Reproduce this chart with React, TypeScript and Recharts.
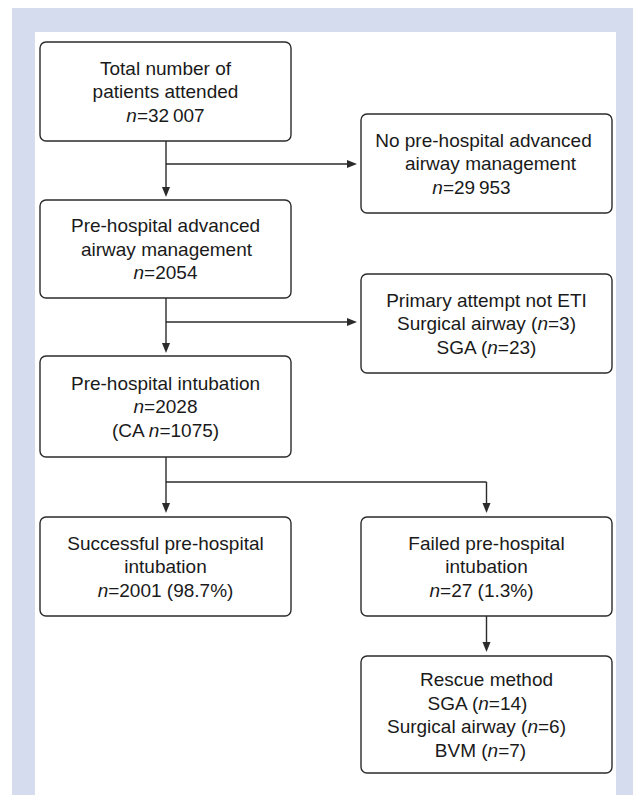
import React from 'react';
import { ComposedChart, XAxis, YAxis, ReferenceArea, ReferenceLine } from 'recharts';

// box texts ("n=" gets an italic n)
const totalPatients = ['Total number of', 'patients attended', 'n=32\u2009007'];
const noAdvanced = ['No pre-hospital advanced', 'airway management', 'n=29\u2009953'];
const advanced = ['Pre-hospital advanced', 'airway management', 'n=2054'];
const notEti = ['Primary attempt not ETI', 'Surgical airway (n=3)', 'SGA (n=23)'];
const intubation = ['Pre-hospital intubation', 'n=2028', '(CA n=1075)'];
const success = ['Successful pre-hospital', 'intubation', 'n=2001 (98.7%)'];
const failed = ['Failed pre-hospital', 'intubation', 'n=27 (1.3%)'];
const rescue = ['Rescue method', 'SGA (n=14)', 'Surgical airway (n=6)', 'BVM (n=7)'];

// layout in page units
const W = 633;
const H = 795;
const LEFT: [number, number] = [40, 291];
const RIGHT: [number, number] = [361, 612];
const midL = (LEFT[0] + LEFT[1]) / 2 + 0.5;
const midR = (RIGHT[0] + RIGHT[1]) / 2;

const boxes = [
  { lines: totalPatients, col: LEFT, y: [42, 141], dx: [0, 0, 0] },
  { lines: noAdvanced, col: RIGHT, y: [114, 213], dx: [-3, 4, -15] },
  { lines: advanced, col: LEFT, y: [200, 298], dx: [0, 1, 0] },
  { lines: notEti, col: RIGHT, y: [274, 373], dx: [0, 0, 0] },
  { lines: intubation, col: LEFT, y: [356, 457], dx: [0, 0, 0] },
  { lines: success, col: LEFT, y: [517, 616], dx: [0, 0, 0] },
  { lines: failed, col: RIGHT, y: [517, 616], dx: [0, 0, -5] },
  { lines: rescue, col: RIGHT, y: [656, 773], dx: [0, -9, -10, -6] },
];

const links = [
  { from: [midL, 141], to: [midL, 197], arrow: true },
  { from: [midL, 164], to: [357, 164], arrow: true },
  { from: [midL, 298], to: [midL, 353], arrow: true },
  { from: [midL, 322], to: [357, 322], arrow: true },
  { from: [midL, 457], to: [midL, 513], arrow: true },
  { from: [midL, 482], to: [midR, 482], arrow: false },
  { from: [midR, 482], to: [midR, 513], arrow: true },
  { from: [midR, 616], to: [midR, 652], arrow: true },
];

const FONT = '"Liberation Sans", Arial, sans-serif';
const INK = '#1a1a1a';
const LINE = '#2b2b2b';

function richText(s: string) {
  const parts = s.split(/\bn(?==)/);
  return parts.map((p, i) => (
    <React.Fragment key={i}>
      {i > 0 && <tspan fontStyle="italic">n</tspan>}
      {p}
    </React.Fragment>
  ));
}

function BoxShape(props: any) {
  const { x, y, width, height, lines, dx } = props;
  const step = 23.6;
  const cx = x + width / 2;
  const first = y + height / 2 - ((lines.length - 1) * step) / 2;
  return (
    <g>
      <rect x={x} y={y} width={width} height={height} rx={6} ry={6} fill="#fff" stroke={LINE} strokeWidth={1.4} />
      {lines.map((l: string, i: number) => (
        <text
          key={i}
          x={cx + (dx[i] || 0)}
          y={first + i * step + 6.8}
          textAnchor="middle"
          fontFamily={FONT}
          fontSize={19}
          fill={INK}
        >
          {richText(l)}
        </text>
      ))}
    </g>
  );
}

function Connector(props: any) {
  const { x1, y1, x2, y2, arrow } = props;
  const ang = Math.atan2(y2 - y1, x2 - x1);
  const len = 10;
  const half = 4;
  const bx = x2 - len * Math.cos(ang);
  const by = y2 - len * Math.sin(ang);
  const px = -Math.sin(ang) * half;
  const py = Math.cos(ang) * half;
  return (
    <g>
      <line x1={x1} y1={y1} x2={arrow ? bx : x2} y2={arrow ? by : y2} stroke={LINE} strokeWidth={1.4} />
      {arrow && (
        <polygon points={`${x2},${y2} ${bx + px},${by + py} ${bx - px},${by - py}`} fill={LINE} />
      )}
    </g>
  );
}

export default function App() {
  return (
    <div style={{ position: 'absolute', left: 0, top: 0, width: W, height: H, background: '#fff' }}>
      <ComposedChart width={W} height={H} data={[]} margin={{ top: 0, right: 0, bottom: 0, left: 0 }}>
        <XAxis type="number" dataKey="x" domain={[0, W]} hide allowDataOverflow />
        <YAxis type="number" dataKey="y" domain={[0, H]} reversed hide allowDataOverflow />

        {/* frame */}
        <ReferenceArea x1={12} x2={W} y1={8} y2={H} fill="#d4dcee" fillOpacity={1} stroke="none" ifOverflow="visible" />
        <ReferenceArea x1={35} x2={616} y1={32} y2={H} fill="#fff" fillOpacity={1} stroke="none" ifOverflow="visible" />

        {links.map((k, i) => (
          <ReferenceLine
            key={`l${i}`}
            segment={[{ x: k.from[0], y: k.from[1] }, { x: k.to[0], y: k.to[1] }]}
            ifOverflow="visible"
            shape={(p: any) => <Connector {...p} arrow={k.arrow} />}
          />
        ))}

        {boxes.map((b, i) => (
          <ReferenceArea
            key={`b${i}`}
            x1={b.col[0]}
            x2={b.col[1]}
            y1={b.y[0]}
            y2={b.y[1]}
            ifOverflow="visible"
            shape={(p: any) => <BoxShape {...p} lines={b.lines} dx={b.dx} />}
          />
        ))}
      </ComposedChart>
    </div>
  );
}
